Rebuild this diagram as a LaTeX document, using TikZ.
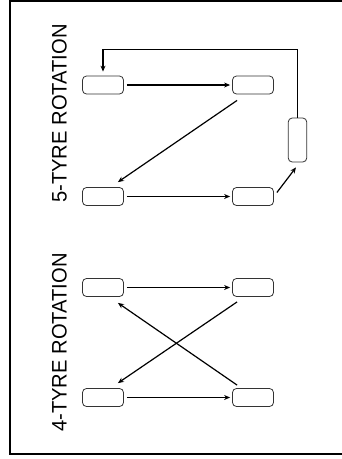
\documentclass[tikz,border=0pt]{standalone}
\usepackage{fontspec}
\setmainfont{Liberation Sans}
\usetikzlibrary{positioning,arrows.meta,calc}

\begin{document}
\begin{tikzpicture}[x=1pt,y=-1pt,>={Stealth[length=6pt,width=5pt]},
  tyre/.style={draw=black!80,line width=0.8pt,rounded corners=4pt,minimum width=41pt,minimum height=18pt,inner sep=0pt},
  move/.style={->,line width=1.2pt},
  gap/.style={shorten <=3pt,shorten >=2pt},
  title/.style={rotate=90,xscale=0.96,inner sep=0pt,font=\fontsize{21}{24}\selectfont}]
\useasboundingbox (0,0) rectangle (342,459);
\draw[line width=2.8pt] (342,0.5) -- (10,0.5) -- (10,454) -- (342,454);
% 5-tyre rotation
\node[title] (t5) at (59.5,113.5) {5-TYRE ROTATION};
\node[tyre] (a1) at (103,85) {};
\node[tyre] (a2) at (253,85) {};
\node[tyre] (a3) at (103,196.5) {};
\node[tyre] (a4) at (253,196.5) {};
\node[tyre,minimum width=18.5pt,minimum height=44pt] (a5) at (297.5,140) {};
\draw[move,gap] (a1) -- (a2);
\draw[move] ($(a2.south west)+(5,6)$) -- ($(a3.north east)+(-6,-5)$);
\draw[move,gap] (a3) -- (a4);
\draw[move] ($(a4.east)+(3,-4)$) -- ($(a5.south)+(-1.5,5)$);
\draw[move,shorten >=4pt] (a5.north) -- ++(0,-68) -| (a1.north);
% 4-tyre rotation
\node[title] (t4) at (59.5,342.5) {4-TYRE ROTATION};
\node[tyre] (b1) at (103,287.5) {};
\node[tyre] (b2) at (253,287.5) {};
\node[tyre] (b3) at (103,397.5) {};
\node[tyre] (b4) at (253,397.5) {};
\draw[move,gap] (b1) -- (b2);
\draw[move,gap] (b3) -- (b4);
\draw[move] ($(b2.south west)+(5,5)$) -- ($(b3.north east)+(-6,-5)$);
\draw[move] ($(b4.north west)+(5,-3)$) -- ($(b1.south east)+(-6,6)$);
\end{tikzpicture}
\end{document}
